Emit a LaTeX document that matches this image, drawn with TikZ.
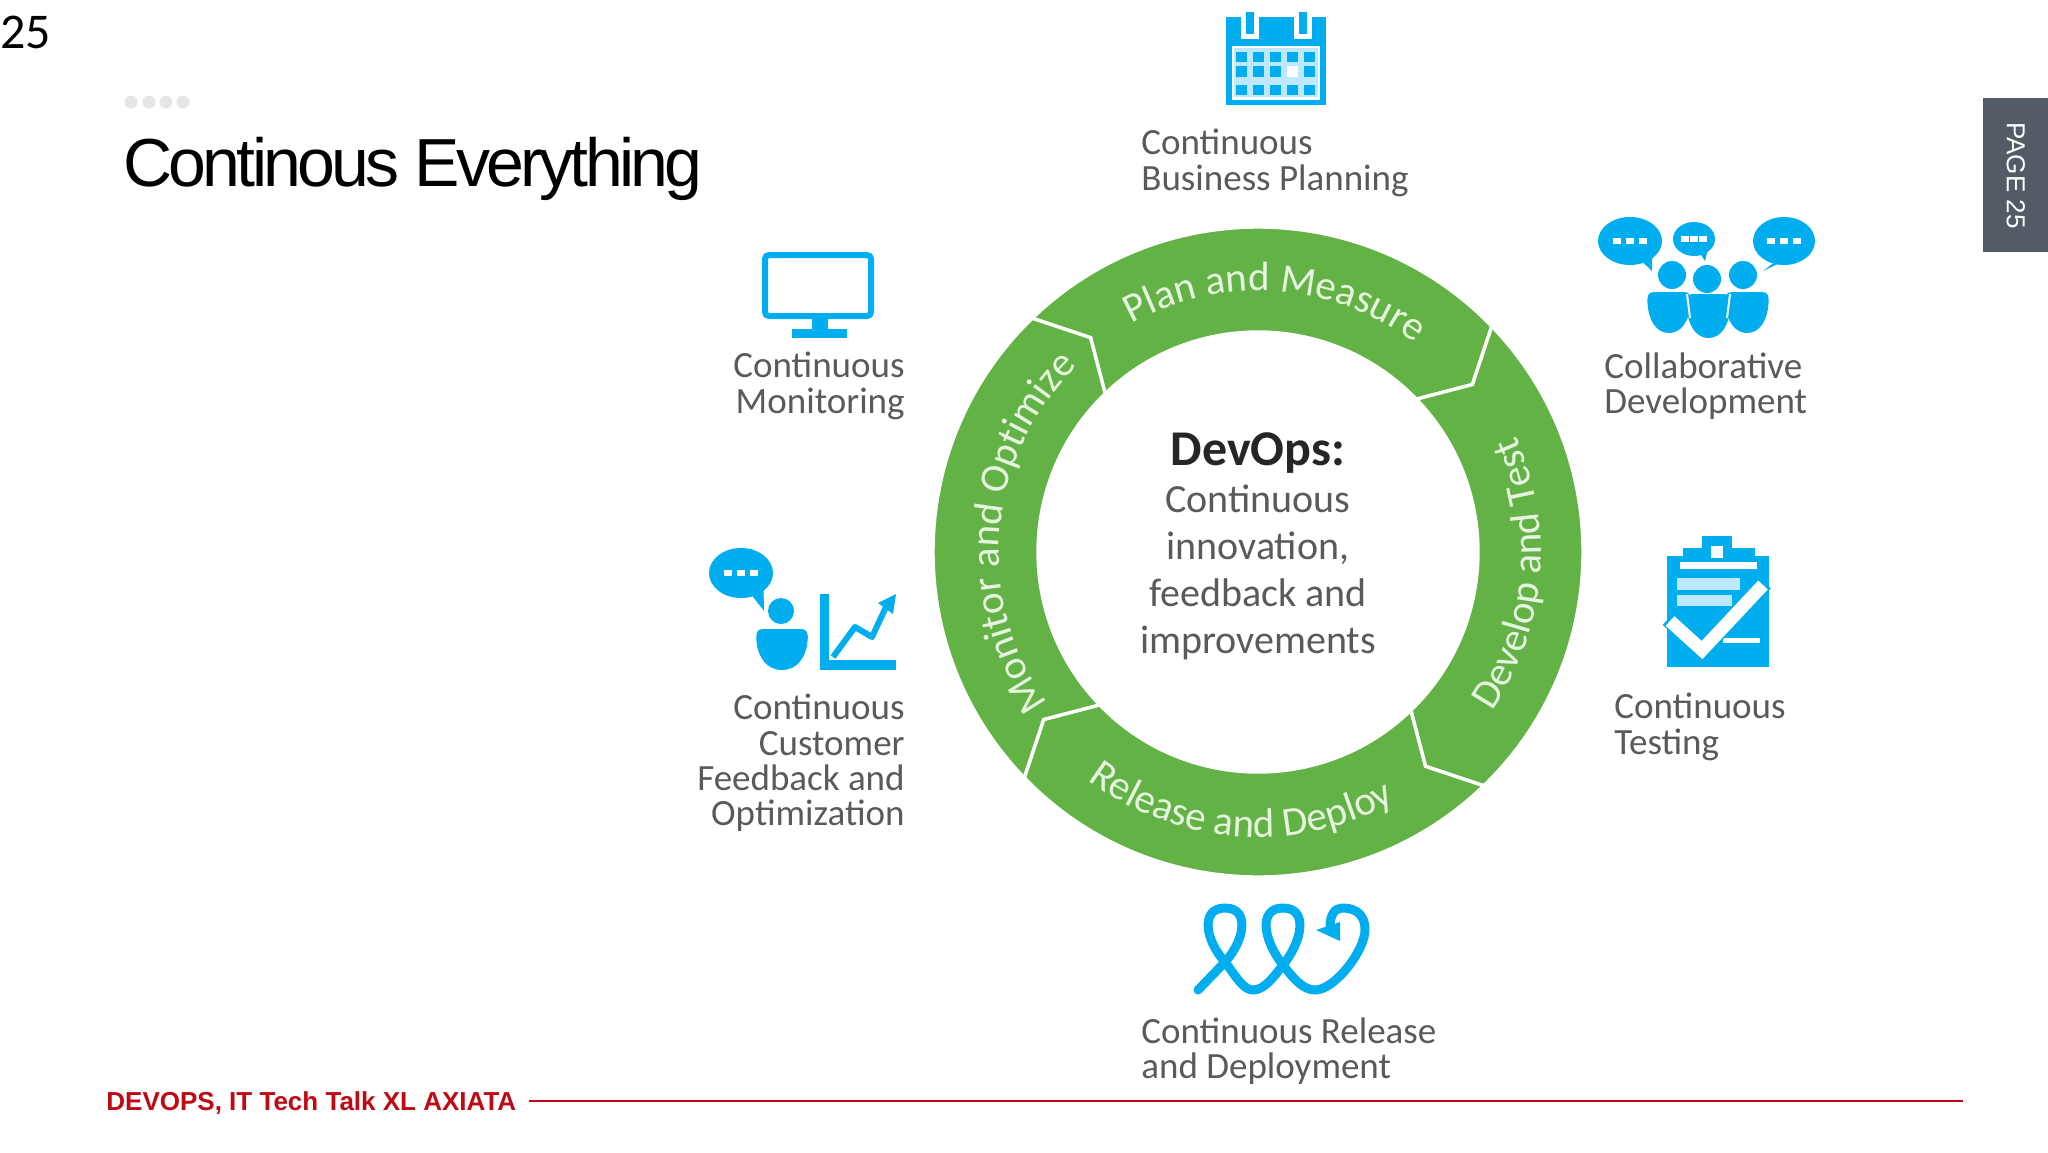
\documentclass[tikz,border=0pt]{standalone}
\usepackage{fontspec}
\usetikzlibrary{decorations.text}
\setmainfont{Carlito}
\newfontfamily\arialfont{Liberation Sans}
\newfontfamily\titlefont[LetterSpace=-5.5]{Liberation Sans}
\definecolor{icon}{HTML}{00ADEF}
\definecolor{pale}{HTML}{BDE7FA}
\definecolor{ringgreen}{HTML}{63B246}
\definecolor{ringtext}{HTML}{E6F3DF}
\definecolor{labelgrey}{HTML}{5A5A5A}
\definecolor{footred}{HTML}{BE0A14}
\definecolor{tabgrey}{HTML}{535C66}
\definecolor{dotgrey}{HTML}{E6E6E6}
\newcommand\ringfont{\fontsize{20.5pt}{22pt}\selectfont}
\newcommand\mybubble[6]{%
  \fill[icon] (#1,#2) ellipse [x radius=#3,y radius=#4];
  \fill[icon] ({#1+0.1*#3},{#2+0.5*#4}) -- (#5,#6) -- ({#1+0.7*#3},{#2+0.4*#4}) -- cycle;
  \foreach \dx in {-0.42,0,0.42}{\fill[white] ({#1+\dx*#3-4},{#2-3}) rectangle ({#1+\dx*#3+4},{#2+3});}}
\newcommand\mytorso[4]{%
  \pgfmathsetmacro\tm{(#1+#2)/2}\pgfmathsetmacro\tw{#2-#1}\pgfmathsetmacro\th{#4-#3}
  \fill[icon] ({#1+6},#3) -- ({#2-6},#3) .. controls (#2,#3) and ({#2+.03*\tw},{#3+.1*\th}) .. ({#2+.01*\tw},{#3+.3*\th})
    .. controls ({#2-.02*\tw},{#3+.7*\th}) and ({\tm+.3*\tw},#4) .. (\tm,#4)
    .. controls ({\tm-.3*\tw},#4) and ({#1+.02*\tw},{#3+.7*\th}) .. ({#1-.01*\tw},{#3+.3*\th})
    .. controls ({#1-.03*\tw},{#3+.1*\th}) and (#1,#3) .. ({#1+6},#3) -- cycle;}
\tikzset{
  sidelabel/.style={text=labelgrey,font=\fontsize{18.5pt}{17.7pt}\selectfont,inner sep=0pt},
  centertext/.style={text=labelgrey,font=\fontsize{20pt}{23.5pt}\selectfont,align=center,inner sep=0pt},
  segment/.style={fill=ringgreen,draw=white,line width=1.7pt,line join=miter},
  looppath/.style={draw=icon,line width=4.5pt,line cap=round,line join=round},
}
\begin{document}
\begin{tikzpicture}[x=0.5pt,y=-0.5pt]
\useasboundingbox (0,0) rectangle (2048,1152);
\fill[white] (0,0) rectangle (2048,1152);

% header
\node[anchor=west,inner sep=0pt,font=\fontsize{25pt}{25pt}\selectfont] (pagenum) at (0,32) {25};
\foreach \x in {131,149,166,183}{\fill[dotgrey] (\x,102) circle (6.5);}
\node[anchor=base west,inner sep=0pt,font=\titlefont\fontsize{34pt}{34pt}\selectfont] (title) at (123,186) {Continous Everything};

% tab
\node[fill=tabgrey,anchor=north west,minimum width=32.5pt,minimum height=77pt,inner sep=0pt] (tab) at (1983,98) {};
\node[rotate=-90,text=white,inner sep=0pt,font=\arialfont\fontsize{13pt}{13pt}\selectfont] (tabtext) at (tab.center) {PAGE 25};

% footer
\node[anchor=west,inner sep=0pt,text=footred,font=\arialfont\bfseries\fontsize{13pt}{14pt}\selectfont] (footer) at (106,1103) {DEVOPS, IT Tech Talk XL AXIATA};
\coordinate (footend) at (1963,1101);
\draw[footred,line width=1pt] (529,1101) -- (footend);

% ring
\begin{scope}[shift={(1258,552)},yscale=-1]
  \foreach \a in {44,-46,-136,134}{
    \pgfmathsetmacro\b{\a+90}\pgfmathsetmacro\t{\a-6}\pgfmathsetmacro\u{\a+84}
    \path[segment] (\b:325) arc[start angle=\b,end angle=\a,radius=325]
      -- (\t:272) -- (\a:220) arc[start angle=\a,end angle=\b,radius=220]
      -- (\u:272) -- cycle;
  }
  \path[decorate,decoration={text along path,text align={center},
     text={|\ringfont\color{ringtext}|Plan and Measure}}]
     (136:261) arc[start angle=136,end angle=36,radius=261];
  \path[decorate,decoration={text along path,text align={center},
     text={|\ringfont\color{ringtext}|Monitor and Optimize}}]
     (225:259) arc[start angle=225,end angle=125,radius=259];
  \path[decorate,decoration={text along path,text align={center},
     text={|\ringfont\color{ringtext}|Develop and Test}}]
     (-55:283) arc[start angle=-55,end angle=45,radius=283];
  \path[decorate,decoration={text along path,text align={center},
     text={|\ringfont\color{ringtext}|Release and Deploy}}]
     (216:285) arc[start angle=216,end angle=316,radius=285];
\end{scope}

% centre text
\node[centertext] (center) at (1258,546) {{\bfseries\fontsize{25pt}{23.5pt}\selectfont\color{black!85}DevOps:}\\Continuous\\innovation,\\feedback and\\improvements};

% labels
\node[sidelabel,anchor=west,align=left] (lplan) at (1141,163) {Continuous\\Business Planning};
\node[sidelabel,anchor=east,align=right] (lmon) at (905,386) {Continuous\\Monitoring};
\node[sidelabel,anchor=east,align=right] (lcust) at (905,763) {Continuous\\Customer\\Feedback and\\Optimization};
\node[sidelabel,anchor=west,align=left] (lcoll) at (1604,386) {Collaborative\\Development};
\node[sidelabel,anchor=west,align=left] (ltest) at (1614,727) {Continuous\\Testing};
\node[sidelabel,anchor=west,align=left] (lrel) at (1141,1051) {Continuous Release\\and Deployment};

% calendar icon
\fill[icon] (1226,17) rectangle (1326,105);
\fill[white] (1232,46) rectangle (1320,100);
\fill[pale] (1234,48) rectangle (1318,97);
\foreach \x in {1250,1303}{
  \fill[white] (\x-9,12) rectangle (\x+9,39);
  \fill[icon] (\x-4,12) rectangle (\x+4,34);
}
\foreach \x in {1238,1255,1272,1289,1306}{
  \fill[icon] (\x-2,52) rectangle (\x+9,62);
  \fill[icon] (\x-2,85) rectangle (\x+9,95);
}
\foreach \x in {1238,1255,1272,1306}{\fill[icon] (\x-2,66) rectangle (\x+9,77);}
\fill[white] (1287,66) rectangle (1298,77);

% monitor icon
\draw[icon,line width=3pt,rounded corners=2pt] (765,255) rectangle (871,316);
\fill[icon] (812,318) rectangle (828,332);
\fill[icon] (792,329) rectangle (847,338);

% customer feedback icon
\mybubble{741}{573}{32}{25}{764}{611}
\fill[icon] (781,611) circle (13);
\mytorso{757}{807}{629}{670}
\fill[icon] (820,594) rectangle (829,670);
\fill[icon] (820,660) rectangle (896,670);
\draw[icon,line width=3pt,line join=round] (833,657) -- (855,627) -- (872,637) -- (886,607);
\fill[icon] (878,603) -- (896,594) -- (893,614) -- cycle;

% collaborative icon
\mybubble{1630}{241}{32}{24}{1652}{271}
\mybubble{1694}{239}{21}{17}{1705}{261}
\mybubble{1784}{241}{31}{24}{1763}{271}
\foreach \x/\y in {1672/275,1707/279,1743/275}{\fill[icon] (\x,\y) circle (14);}
\mytorso{1648}{1690}{292}{333}
\mytorso{1726}{1768}{292}{333}
\mytorso{1687}{1730}{294}{338}
\draw[white,line width=1pt] (1687,294) -- (1690,318);
\draw[white,line width=1pt] (1730,294) -- (1727,318);

% clipboard icon
\fill[icon] (1667,556) rectangle (1769,667);
\fill[white] (1680,562) rectangle (1757,569);
\fill[icon] (1683,548) rectangle (1755,562);
\fill[icon] (1702,536) rectangle (1732,550);
\fill[white] (1711,546) rectangle (1723,558);
\fill[pale] (1677,578) rectangle (1740,590);
\fill[pale] (1677,595) rectangle (1732,606);
\fill[white] (1723,638) rectangle (1760,643);
\draw[icon,line width=8pt,line join=miter] (1668,619) -- (1702,650) -- (1765,583);
\draw[white,line width=6.5pt,line join=miter] (1670,621) -- (1702,650) -- (1763,585);

% release icon
\draw[looppath] (1198,990) -- (1225,962)
  .. controls (1205,940) and (1200,908) .. (1225,908)
  .. controls (1250,908) and (1245,940) .. (1225,962)
  .. controls (1235,975) and (1243,990) .. (1253,990)
  .. controls (1265,990) and (1275,975) .. (1283,965)
  .. controls (1263,940) and (1258,908) .. (1283,908)
  .. controls (1308,908) and (1303,940) .. (1283,965)
  .. controls (1293,978) and (1303,990) .. (1315,990)
  .. controls (1335,990) and (1365,950) .. (1365,930)
  .. controls (1365,910) and (1350,908) .. (1342,908)
  .. controls (1335,908) and (1330,915) .. (1330,926);
\fill[icon] (1316,930) -- (1340,922) -- (1340,941) -- cycle;
\end{tikzpicture}
\end{document}
